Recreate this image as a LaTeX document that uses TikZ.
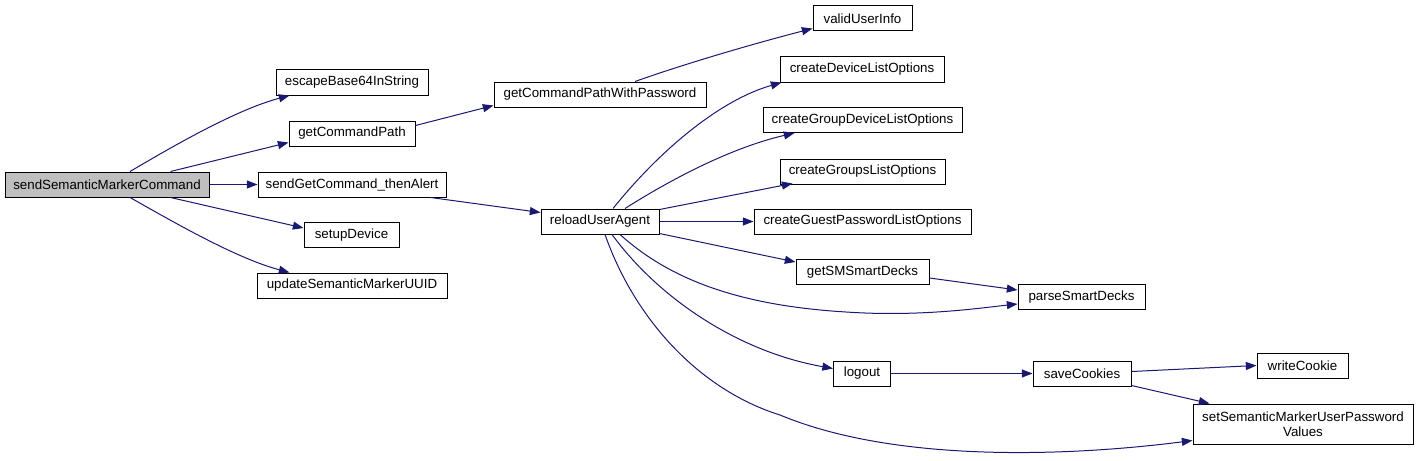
\documentclass[tikz,border=0pt]{standalone}
\usepackage{fontspec}
\setmainfont{Liberation Sans}
\usetikzlibrary{arrows.meta,calc}
\definecolor{edgeBlue}{HTML}{191970}
\definecolor{rootGray}{HTML}{BFBFBF}
\tikzset{
    funcBox/.style={
        draw,
        line width=0.75pt,
        fill=white,
        align=center,
        inner sep=0pt,
        minimum height=18.75pt,
        font=\fontsize{10}{11.5}\selectfont
    },
    boxw/.style={minimum width=#1*0.75pt},
    callArrow/.style={
        -{Triangle[length=8pt,width=6pt,fill=edgeBlue]},
        draw=edgeBlue,
        line width=0.75pt
    }
}

\begin{document}
\begin{tikzpicture}[x=0.75pt,y=-0.75pt]
        \useasboundingbox (0,0) rectangle (1419,460);

        \node[funcBox,boxw=204,fill=rootGray] (root) at (107,184.5) {sendSemanticMarkerCommand};
        \node[funcBox,boxw=152] (escape) at (352,82.5) {escapeBase64InString};
        \node[funcBox,boxw=126] (cmdPath) at (352,133.5) {getCommandPath};
        \node[funcBox,boxw=188] (sendGet) at (352,184.5) {sendGetCommand\_thenAlert};
        \node[funcBox,boxw=95] (setup) at (351.5,235) {setupDevice};
        \node[funcBox,boxw=190] (updUUID) at (352,285.5) {updateSemanticMarkerUUID};

        \node[funcBox,boxw=212] (cmdPathPw) at (600,94.5) {getCommandPathWithPassword};
        \node[funcBox,boxw=118] (reload) at (600,221.5) {reloadUserAgent};

        \node[funcBox,boxw=99] (validUser) at (862.5,18.5) {validUserInfo};
        \node[funcBox,boxw=164] (devList) at (862,69.5) {createDeviceListOptions};
        \node[funcBox,boxw=199] (grpDevList) at (862.5,120) {createGroupDeviceListOptions};
        \node[funcBox,boxw=165] (grpList) at (862.5,171.5) {createGroupsListOptions};
        \node[funcBox,boxw=217] (guestList) at (862.5,221.5) {createGuestPasswordListOptions};
        \node[funcBox,boxw=133] (smDecks) at (862.5,272) {getSMSmartDecks};
        \node[funcBox,boxw=57] (logout) at (862,373.5) {logout};

        \node[funcBox,boxw=127] (parseDecks) at (1081.5,297) {parseSmartDecks};
        \node[funcBox,boxw=98] (saveCk) at (1082,373.5) {saveCookies};

        \node[funcBox,boxw=91] (writeCk) at (1302.5,365.5) {writeCookie};
        \node[funcBox,boxw=220,minimum height=30pt] (setPw) at (1303,424) {setSemanticMarkerUserPassword\\Values};

        % calls from the root
        \draw[callArrow] ($(root.north)+(23,0)$) .. controls (170,148) and (235,110) .. ($(escape.south west)+(14,0)$);
        \draw[callArrow] ($(root.north east)+(-39,0)$) -- ($(cmdPath.south west)+(0,-4)$);
        \draw[callArrow] (root.east) -- (sendGet.west);
        \draw[callArrow] ($(root.south east)+(-39,0)$) -- ($(setup.north west)+(0,6)$);
        \draw[callArrow] ($(root.south)+(23,0)$) .. controls (170,220) and (235,258) .. ($(updUUID.north west)+(33,0)$);

        % second level
        \draw[callArrow] ($(cmdPath.north east)+(0,5)$) -- ($(cmdPathPw.south west)+(0,-2)$);
        \draw[callArrow] ($(cmdPathPw.north)+(35,0)$) .. controls (690,62) and (760,42) .. ($(validUser.south west)+(0,-3)$);
        \draw[callArrow] ($(sendGet.south east)+(-16,0)$) -- ($(reload.north west)+(0,4)$);

        % calls from reloadUserAgent
        \draw[callArrow] ($(reload.north)+(13,0)$) .. controls (660,150) and (720,100) .. ($(devList.south west)+(2,0)$);
        \draw[callArrow] ($(reload.north)+(25,0)$) .. controls (670,180) and (730,148) .. ($(grpDevList.south west)+(32,0)$);
        \draw[callArrow] ($(reload.north east)+(0,1)$) -- ($(grpList.south west)+(13,-1)$);
        \draw[callArrow] (reload.east) -- (guestList.west);
        \draw[callArrow] ($(reload.south east)+(0,-1)$) -- ($(smDecks.north west)+(0,3)$);
        \draw[callArrow] ($(reload.south)+(20,0)$) .. controls (665,275) and (730,305) .. (846,312)
            .. controls (920,317) and (980,308) .. ($(parseDecks.south west)+(0,-6)$);
        \draw[callArrow] ($(reload.south)+(12,0)$) .. controls (660,300) and (740,352) .. ($(logout.west)+(0,-5)$);
        \draw[callArrow] ($(reload.south)+(5,0)$) .. controls (635,320) and (700,390) .. (780,415)
            .. controls (900,465) and (1080,455) .. ($(setPw.south west)+(0,-4)$);

        % remaining calls
        \draw[callArrow] ($(smDecks.east)+(0,6)$) -- ($(parseDecks.west)+(0,-7)$);
        \draw[callArrow] (logout.east) -- (saveCk.west);
        \draw[callArrow] ($(saveCk.east)+(0,-2)$) -- (writeCk.west);
        \draw[callArrow] ($(saveCk.south east)+(0,-1)$) -- ($(setPw.north west)+(17,0)$);
    \end{tikzpicture}
\end{document}
